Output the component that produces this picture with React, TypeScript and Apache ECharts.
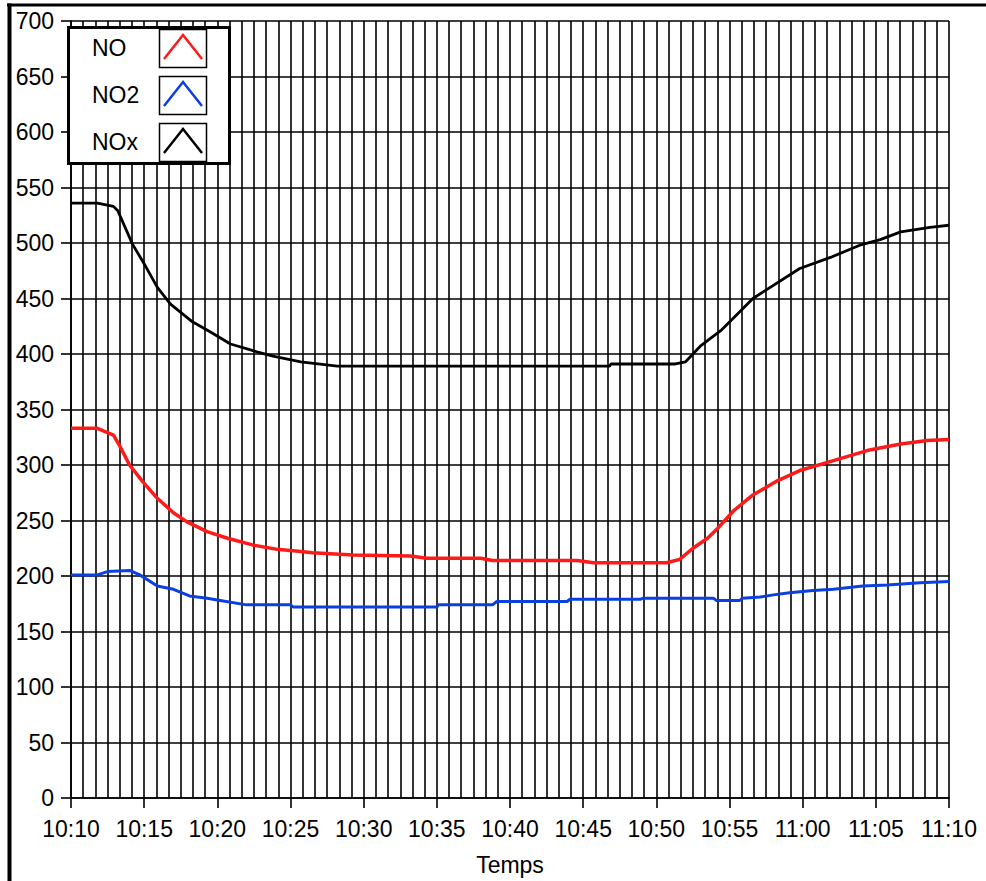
import React, { useEffect, useRef } from "react";
import * as echarts from "echarts";

// minutes after 10:10
const xTickLabels = ["10:10", "10:15", "10:20", "10:25", "10:30", "10:35", "10:40", "10:45", "10:50", "10:55", "11:00", "11:05", "11:10"];
const seriesNames = ["NO", "NO2", "NOx"];
const seriesColors = ["#ff1a1a", "#0a3fe0", "#000000"];

const noTimes = [0, 1.8, 2.9, 3.3, 4.0, 4.9, 5.9, 7.0, 7.9, 9.3, 10.7, 12.4, 14.1, 15.7, 16.5, 19.3, 23.2, 24.3, 28.0, 28.8, 34.6, 35.7, 40.7, 41.6, 42.5, 43.5, 44.2, 45.3, 46.6, 48.3, 49.8, 52.1, 54.4, 56.7, 58.5, 60];
const noValues = [333, 333, 327, 318, 300, 285, 270, 257, 249, 240, 234, 228, 224, 222, 221, 219, 218, 216, 216, 214, 214, 212, 212, 215, 225, 234, 243, 259, 273, 286, 295, 304, 313, 319, 322, 323];

const no2Times = [0, 1.8, 2.5, 4.0, 4.7, 5.9, 7.0, 8.1, 9.3, 10.2, 12.0, 15.0, 15.2, 25.0, 25.1, 28.8, 29.1, 33.9, 34.1, 38.9, 39.1, 43.9, 44.1, 45.7, 45.9, 47.1, 48.0, 49.1, 50.7, 52.1, 54.1, 55.8, 58.0, 60];
const no2Values = [201, 201, 204, 205, 201, 191, 188, 182, 180, 178, 174, 174, 172, 172, 174, 174, 177, 177, 179, 179, 180, 180, 178, 178, 180, 181, 183, 185, 187, 188, 191, 192, 194, 195];

const noxTimes = [0, 1.8, 2.9, 3.2, 4.2, 5.1, 5.9, 6.8, 8.3, 9.5, 10.9, 12.7, 13.8, 15.7, 18.2, 36.8, 36.9, 41.3, 42.0, 43.0, 44.4, 45.7, 46.6, 49.8, 51.9, 53.9, 55.3, 56.7, 58.7, 60];
const noxValues = [536, 536, 533, 529, 499, 479, 460, 445, 429, 420, 409, 402, 398, 393, 389, 389, 391, 391, 393, 407, 421, 438, 450, 477, 487, 498, 503, 510, 514, 516];

const FONT = "'Liberation Sans', Arial, sans-serif";

function zip(t: number[], v: number[]) {
  return t.map((x, i) => [x, v[i]]);
}

export default function App() {
  const ref = useRef<HTMLDivElement>(null);
  useEffect(() => {
    document.body.style.margin = "0";
    const chart = echarts.init(ref.current!, null, { renderer: "svg" });
    const gridLine = { lineStyle: { color: "#000", width: 1.6, type: "solid" as const } };

    const legendRows: any[] = [];
    seriesNames.forEach((name, i) => {
      const dy = i * 47;
      legendRows.push({
        type: "text",
        left: 92,
        top: 36 + dy,
        style: { text: name, fill: "#000", font: `23px ${FONT}` },
        z: 102,
      });
      legendRows.push({
        type: "rect",
        shape: { x: 159.5, y: 29.5 + dy, width: 47, height: 38 },
        style: { fill: "#fff", stroke: "#000", lineWidth: 1.5 },
        z: 101,
      });
      legendRows.push({
        type: "polyline",
        shape: { points: [[164, 59 + dy], [183, 35 + dy], [202, 59 + dy]] },
        style: { stroke: seriesColors[i], lineWidth: 2.5, fill: null },
        z: 102,
      });
    });

    chart.setOption({
      animation: false,
      backgroundColor: "#fff",
      grid: { left: 71, right: 37, top: 21, bottom: 80 },
      xAxis: {
        type: "value",
        min: 0,
        max: 60,
        interval: 5,
        name: "Temps",
        nameLocation: "middle",
        nameGap: 55,
        nameTextStyle: { color: "#000", fontSize: 23, fontFamily: FONT },
        axisLine: { show: true, lineStyle: { color: "#000", width: 1.6 } },
        axisTick: { show: true, length: 10, lineStyle: { color: "#000", width: 1.6 } },
        axisLabel: {
          color: "#000",
          fontSize: 23,
          fontFamily: FONT,
          margin: 19,
          formatter: (v: number) => xTickLabels[Math.round(v / 5)] ?? "",
        },
        splitLine: { show: true, ...gridLine },
        minorTick: { show: false, splitNumber: 6 },
        minorSplitLine: { show: true, ...gridLine },
      },
      yAxis: {
        type: "value",
        min: 0,
        max: 700,
        interval: 50,
        axisLine: { show: true, lineStyle: { color: "#000", width: 1.6 } },
        axisTick: { show: true, length: 10, lineStyle: { color: "#000", width: 1.6 } },
        axisLabel: { color: "#000", fontSize: 23, fontFamily: FONT, margin: 17 },
        splitLine: { show: true, ...gridLine },
      },
      series: [
        {
          name: "NO",
          type: "line",
          data: zip(noTimes, noValues),
          showSymbol: false,
          lineStyle: { color: seriesColors[0], width: 3.5 },
          itemStyle: { color: seriesColors[0] },
          z: 3,
        },
        {
          name: "NO2",
          type: "line",
          data: zip(no2Times, no2Values),
          showSymbol: false,
          lineStyle: { color: seriesColors[1], width: 3 },
          itemStyle: { color: seriesColors[1] },
          z: 3,
        },
        {
          name: "NOx",
          type: "line",
          data: zip(noxTimes, noxValues),
          showSymbol: false,
          lineStyle: { color: seriesColors[2], width: 2.8 },
          itemStyle: { color: seriesColors[2] },
          z: 3,
        },
      ],
      graphic: [
        {
          type: "line",
          shape: { x1: 7, y1: 5, x2: 986, y2: 5 },
          style: { stroke: "#000", lineWidth: 3 },
          z: 110,
        },
        {
          type: "line",
          shape: { x1: 9.5, y1: 3.5, x2: 9.5, y2: 881 },
          style: { stroke: "#000", lineWidth: 4 },
          z: 110,
        },
        {
          type: "rect",
          shape: { x: 68.5, y: 27.5, width: 161, height: 136 },
          style: { fill: "#fff", stroke: "#000", lineWidth: 3 },
          z: 100,
        },
        ...legendRows,
      ],
    });
    return () => chart.dispose();
  }, []);
  return <div ref={ref} style={{ width: 986, height: 881 }} />;
}
